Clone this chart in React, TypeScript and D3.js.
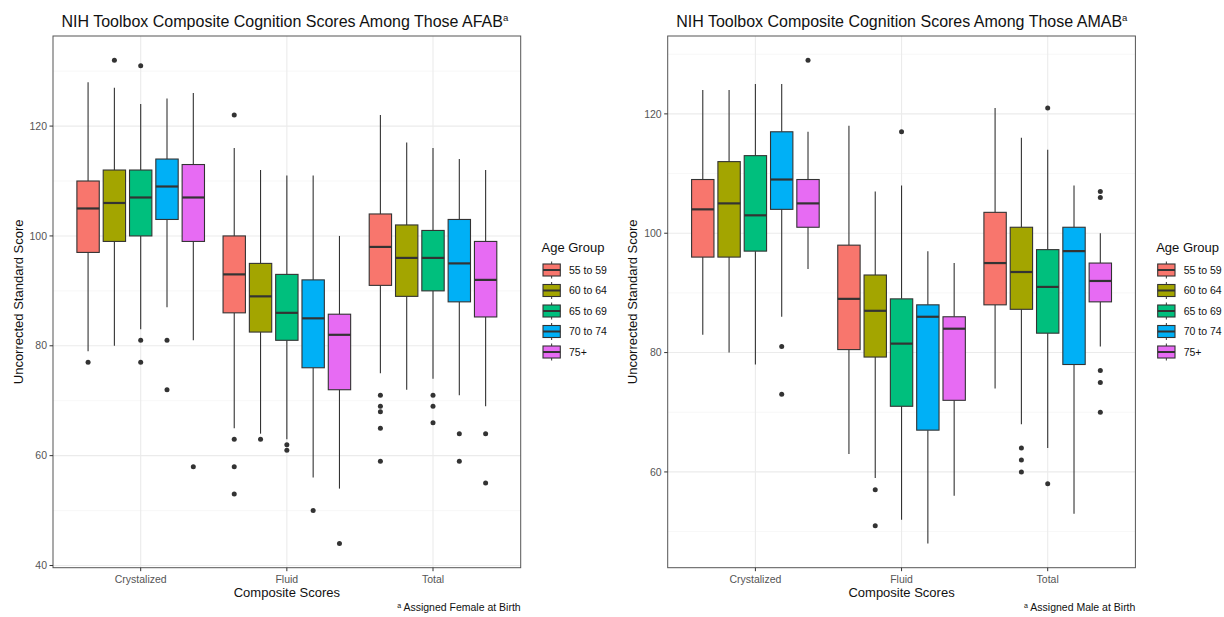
import React from 'react';
import * as d3 from 'd3';

const categories = ["Crystalized", "Fluid", "Total"];
const ageGroups = ["55 to 59", "60 to 64", "65 to 69", "70 to 74", "75+"];
const groupColors = ["#F8766D", "#A3A500", "#00BF7D", "#00B0F6", "#E76BF3"];

// [lower whisker, q1, median, q3, upper whisker], rows: category x age group
const afabBoxes = [
  [79, 97, 105, 110, 128],
  [80, 99, 106, 112, 127],
  [83, 100, 107, 112, 124],
  [87, 103, 109, 114, 125],
  [81, 99, 107, 113, 126],
  [65, 86, 93, 100, 116],
  [64, 82.5, 89, 95, 112],
  [63, 81, 86, 93, 111],
  [56, 76, 85, 92, 111],
  [54, 72, 82, 85.75, 100],
  [75, 91, 98, 104, 122],
  [72, 89, 96, 102, 117],
  [74, 90, 96, 101, 116],
  [71, 88, 95, 103, 114],
  [69, 85.25, 92, 99, 112],
];

// [category, age group index, value]
const afabOutliers = [
  ["Crystalized", 0, 77],
  ["Crystalized", 1, 132],
  ["Crystalized", 2, 131], ["Crystalized", 2, 81], ["Crystalized", 2, 77],
  ["Crystalized", 3, 81], ["Crystalized", 3, 72],
  ["Crystalized", 4, 58],
  ["Fluid", 0, 122], ["Fluid", 0, 63], ["Fluid", 0, 58], ["Fluid", 0, 53],
  ["Fluid", 1, 63],
  ["Fluid", 2, 62], ["Fluid", 2, 61],
  ["Fluid", 3, 50],
  ["Fluid", 4, 44],
  ["Total", 0, 71], ["Total", 0, 69], ["Total", 0, 68], ["Total", 0, 65], ["Total", 0, 59],
  ["Total", 2, 71], ["Total", 2, 69], ["Total", 2, 66],
  ["Total", 3, 64], ["Total", 3, 59],
  ["Total", 4, 64], ["Total", 4, 55],
];

const amabBoxes = [
  [83, 96, 104, 109, 124],
  [80, 96, 105, 112, 124],
  [78, 97, 103, 113, 125],
  [86, 104, 109, 117, 125],
  [94, 101, 105, 109, 117],
  [63, 80.5, 89, 98, 118],
  [59, 79.25, 87, 93, 107],
  [52, 71, 81.5, 89, 108],
  [48, 67, 86, 88, 97],
  [56, 72, 84, 86, 95],
  [74, 88, 95, 103.5, 121],
  [68, 87.25, 93.5, 101, 116],
  [64, 83.25, 91, 97.25, 114],
  [53, 78, 97, 101, 108],
  [81, 88.5, 92, 95, 100],
];

const amabOutliers = [
  ["Crystalized", 3, 81], ["Crystalized", 3, 73],
  ["Crystalized", 4, 129],
  ["Fluid", 1, 57], ["Fluid", 1, 51],
  ["Fluid", 2, 117],
  ["Total", 1, 64], ["Total", 1, 62], ["Total", 1, 60],
  ["Total", 2, 121], ["Total", 2, 58],
  ["Total", 4, 107], ["Total", 4, 106], ["Total", 4, 77], ["Total", 4, 75], ["Total", 4, 70],
];

const yTicks = [40, 60, 80, 100, 120];
const yMinor = [50, 70, 90, 110, 130];

const FONT = "'Liberation Sans', Arial, sans-serif";

interface PanelProps {
  x0: number;
  title: string;
  footnote: string;
  boxes: number[][];
  outliers: any[];
  yDomain: [number, number];
}

const Panel: React.FC<PanelProps> = ({ x0, title, footnote, boxes, outliers, yDomain }) => {
  const left = x0 + 53;
  const right = x0 + 520.7;
  const top = 36;
  const bottom = 567.7;

  const x = d3.scalePoint<string>().domain(categories).range([left, right]).padding(0.6);
  const dodge = x.step() * 0.9;
  const sub = d3.scaleBand<string>()
    .domain(ageGroups)
    .range([-dodge / 2, dodge / 2])
    .paddingInner(0.15)
    .paddingOuter(0.075);
  const bw = sub.bandwidth();
  const y = d3.scaleLinear().domain(yDomain).range([bottom, top]);

  const centerX = (cat: string, gi: number) => (x(cat) as number) + (sub(ageGroups[gi]) as number) + bw / 2;

  const legendX = x0 + 541.5;
  const legendRows = ageGroups.map((_, i) => 270 + i * 20.5);

  return (
    <g>
      {/* title */}
      <text x={x0 + 61.5} y={27} fontSize={16} fill="#111" fontFamily={FONT}>
        {title}
        <tspan fontSize={9.5} dy={-6}>a</tspan>
      </text>

      {/* grid */}
      {yMinor.filter(v => v > yDomain[0] && v < yDomain[1]).map(v => (
        <line key={'mn' + v} x1={left} x2={right} y1={y(v)} y2={y(v)} stroke="#F2F2F2" strokeWidth={0.6} />
      ))}
      {yTicks.filter(v => v >= yDomain[0] && v <= yDomain[1]).map(v => (
        <line key={'mj' + v} x1={left} x2={right} y1={y(v)} y2={y(v)} stroke="#EBEBEB" strokeWidth={1.1} />
      ))}
      {categories.map(c => (
        <line key={'vg' + c} x1={x(c)} x2={x(c)} y1={top} y2={bottom} stroke="#EBEBEB" strokeWidth={1.1} />
      ))}

      {/* boxes */}
      {boxes.map((b, i) => {
        const cat = categories[Math.floor(i / ageGroups.length)];
        const gi = i % ageGroups.length;
        const cx = centerX(cat, gi);
        const [lo, q1, med, q3, hi] = b;
        return (
          <g key={'b' + i}>
            <line x1={cx} x2={cx} y1={y(hi)} y2={y(q3)} stroke="#333" strokeWidth={1.1} />
            <line x1={cx} x2={cx} y1={y(q1)} y2={y(lo)} stroke="#333" strokeWidth={1.1} />
            <rect x={cx - bw / 2} y={y(q3)} width={bw} height={y(q1) - y(q3)}
              fill={groupColors[gi]} stroke="#333" strokeWidth={1.1} />
            <line x1={cx - bw / 2} x2={cx + bw / 2} y1={y(med)} y2={y(med)} stroke="#333" strokeWidth={2.2} />
          </g>
        );
      })}

      {/* outliers */}
      {outliers.map((o, i) => (
        <circle key={'o' + i} cx={centerX(o[0], o[1])} cy={y(o[2])} r={2.5} fill="#333" />
      ))}

      {/* border */}
      <rect x={left} y={top} width={right - left} height={bottom - top} fill="none" stroke="#555" strokeWidth={1} />

      {/* y axis */}
      {yTicks.filter(v => v >= yDomain[0] && v <= yDomain[1]).map(v => (
        <g key={'yt' + v}>
          <line x1={left - 3.5} x2={left} y1={y(v)} y2={y(v)} stroke="#333" strokeWidth={1} />
          <text x={left - 6} y={y(v)} dy="0.35em" textAnchor="end" fontSize={10.5} fill="#555" fontFamily={FONT}>{v}</text>
        </g>
      ))}
      <text transform={`translate(${x0 + 18},${(top + bottom) / 2}) rotate(-90)`} textAnchor="middle"
        dy="0.35em" fontSize={13} fill="#111" fontFamily={FONT}>Uncorrected Standard Score</text>

      {/* x axis */}
      {categories.map(c => (
        <g key={'xt' + c}>
          <line x1={x(c)} x2={x(c)} y1={bottom} y2={bottom + 3.5} stroke="#333" strokeWidth={1} />
          <text x={x(c)} y={579} dy="0.35em" textAnchor="middle" fontSize={10.5} fill="#555" fontFamily={FONT}>{c}</text>
        </g>
      ))}
      <text x={(left + right) / 2} y={592} dy="0.35em" textAnchor="middle" fontSize={13} fill="#111" fontFamily={FONT}>Composite Scores</text>

      {/* footnote */}
      <text x={right} y={611} dy="0.35em" textAnchor="end" fontSize={10.5} fill="#111" fontFamily={FONT}>
        <tspan fontSize={7} dy={-3}>a</tspan>
        <tspan dy={3}> {footnote}</tspan>
      </text>

      {/* legend */}
      <text x={legendX} y={247} dy="0.35em" fontSize={13} fill="#111" fontFamily={FONT}>Age Group</text>
      {ageGroups.map((g, i) => {
        const cy = legendRows[i];
        const kx = legendX + 1.5;
        const kw = 17.3;
        const kc = kx + kw / 2;
        return (
          <g key={'lg' + g}>
            <line x1={kc} x2={kc} y1={cy - 8.5} y2={cy + 8.5} stroke="#333" strokeWidth={1} />
            <rect x={kx} y={cy - 6} width={kw} height={12} fill={groupColors[i]} stroke="#333" strokeWidth={1.1} />
            <line x1={kx} x2={kx + kw} y1={cy} y2={cy} stroke="#333" strokeWidth={2} />
            <text x={legendX + 27.5} y={cy} dy="0.35em" fontSize={10.5} fill="#111" fontFamily={FONT}>{g}</text>
          </g>
        );
      })}
    </g>
  );
};

export default function App() {
  return (
    <svg width={1224} height={617} style={{ position: 'absolute', left: 0, top: 0, background: '#fff' }}>
      <rect width={1224} height={617} fill="#fff" />
      <Panel x0={0} title="NIH Toolbox Composite Cognition Scores Among Those AFAB"
        footnote="Assigned Female at Birth" boxes={afabBoxes} outliers={afabOutliers} yDomain={[39.6, 136.4]} />
      <Panel x0={614.7} title="NIH Toolbox Composite Cognition Scores Among Those AMAB"
        footnote="Assigned Male at Birth" boxes={amabBoxes} outliers={amabOutliers} yDomain={[43.95, 133.05]} />
    </svg>
  );
}
